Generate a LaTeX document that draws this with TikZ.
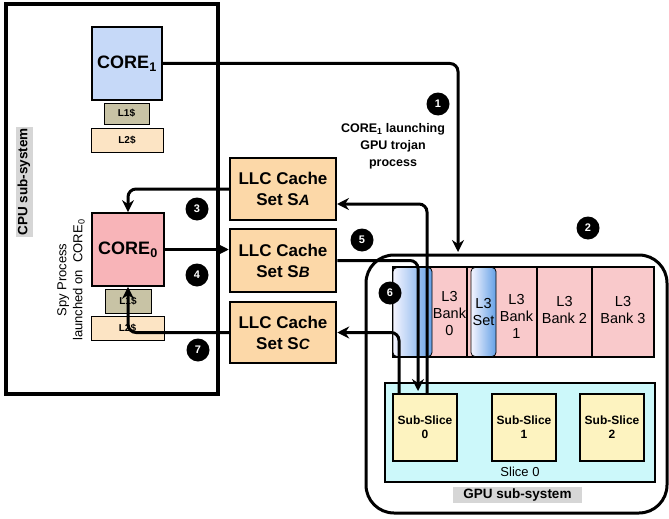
\documentclass[tikz,border=0pt]{standalone}
\usepackage{fontspec}
\setmainfont{Liberation Sans}
\usetikzlibrary{arrows.meta}

\definecolor{coreblue}{RGB}{198,217,248}
\definecolor{corepink}{RGB}{248,180,184}
\definecolor{lonekhaki}{RGB}{200,195,165}
\definecolor{ltwopeach}{RGB}{252,228,196}
\definecolor{llcpeach}{RGB}{252,216,168}
\definecolor{bankpink}{RGB}{249,201,203}
\definecolor{setblue}{RGB}{100,160,230}
\definecolor{slicecyan}{RGB}{204,248,250}
\definecolor{subyellow}{RGB}{253,243,192}
\definecolor{taggray}{RGB}{214,214,214}

\begin{document}
\begin{tikzpicture}[x=1pt, y=-1pt,
		core/.style={draw, line width=1.8pt, inner sep=0pt, font=\bfseries\fontsize{18}{20}\selectfont},
		cache/.style={draw, line width=0.8pt, inner sep=0pt, font=\bfseries\fontsize{10}{12}\selectfont},
		llc/.style={draw, line width=2.5pt, fill=llcpeach, inner sep=0pt, minimum width=106pt, align=center, font=\bfseries\fontsize{17}{21}\selectfont},
		bank/.style={draw, line width=1.8pt, fill=bankpink, minimum height=90pt, inner sep=0pt},
		l3set/.style={draw, line width=0.8pt, rounded corners=4pt, left color=blue!4, right color=setblue, minimum height=89pt, inner sep=0pt, align=center, font=\fontsize{14.5}{17}\selectfont},
		l3txt/.style={align=center, inner sep=0pt, font=\fontsize{14.5}{17}\selectfont},
		subslice/.style={draw, line width=2.5pt, fill=subyellow, minimum width=64pt, minimum height=67pt, inner sep=0pt, align=center, font=\bfseries\fontsize{12}{14}\selectfont},
		tag/.style={fill=taggray, inner sep=0pt, font=\bfseries\fontsize{13.5}{14}\selectfont},
		badge/.style={circle, fill=black, text=white, minimum size=23pt, inner sep=0pt, font=\bfseries\fontsize{11}{11}\selectfont},
		arr/.style={line width=3pt, rounded corners=8pt, -{Stealth[length=12pt,width=12pt,inset=4pt]}}
	]
	\useasboundingbox (0,0) rectangle (669,519);

	% CPU side
	\node (cpu) at (112,199) [draw, line width=3.5pt, minimum width=212pt, minimum height=390pt] {};
	\node (cpulbl) at (24,182) [tag, rotate=90, minimum width=110pt, minimum height=17pt] {CPU sub-system};
	\node (spy) at (71,280) [rotate=90, align=center, inner sep=0pt, font=\fontsize{13}{16}\selectfont] {Spy Process\\launched on \ CORE\textsubscript{0}};

	\node (core1) at (127,63.5) [core, fill=coreblue, minimum width=70pt, minimum height=73pt] {CORE\textsubscript{1}};
	\node (l1a) at (126.5,113.5) [cache, fill=lonekhaki, minimum width=45pt, minimum height=21pt] {L1\$};
	\node (l2a) at (127,140) [cache, fill=ltwopeach, minimum width=72pt, minimum height=24pt] {L2\$};

	\node (core0) at (128,249.5) [core, fill=corepink, minimum width=72pt, minimum height=73pt] {CORE\textsubscript{0}};
	\node (l1b) at (128,301) [cache, fill=lonekhaki, minimum width=46pt, minimum height=24pt] {L1\$};
	\node (l2b) at (127.5,328) [cache, fill=ltwopeach, minimum width=73pt, minimum height=24pt] {L2\$};

	% LLC sets
	\node (llcA) at (283,189) [llc, minimum height=62pt] {LLC Cache\\Set S{\fontsize{15}{15}\selectfont\textit{A}}};
	\node (llcB) at (283,260.5) [llc, minimum height=63pt] {LLC Cache\\Set S{\fontsize{15}{15}\selectfont\textit{B}}};
	\node (llcC) at (283,332.5) [llc, minimum height=61pt] {LLC Cache\\Set S{\fontsize{15}{15}\selectfont\textit{C}}};

	% GPU side
	\node (gpu) at (516.5,384) [draw, line width=3pt, rounded corners=28pt, minimum width=301pt, minimum height=258pt] {};
	\node (bank0) at (430,312) [bank, minimum width=74pt] {};
	\node (bank1) at (502,312) [bank, minimum width=70pt] {};
	\node (bank2) at (564.5,312) [bank, minimum width=55pt] {};
	\node (bank3) at (623,312) [bank, minimum width=62pt] {};
	\node (set0) at (412.5,312) [l3set, minimum width=39pt] {};
	\node (set1) at (483.5,312) [l3set, minimum width=25pt] {L3\\Set};
	\node at (449.5,314) [l3txt] {L3\\Bank\\0};
	\node at (516.5,316) [l3txt] {L3\\Bank\\1};
	\node at (564.5,310) [l3txt] {L3\\Bank 2};
	\node at (623,310) [l3txt] {L3\\Bank 3};

	\node (slice) at (520,432.5) [draw, line width=2pt, fill=slicecyan, minimum width=270pt, minimum height=99pt] {};
	\node at (520,472) [inner sep=0pt, font=\fontsize{13}{13}\selectfont] {Slice 0};
	\node (ss0) at (425,427.5) [subslice] {Sub-Slice\\0};
	\node (ss1) at (524,427.5) [subslice] {Sub-Slice\\1};
	\node (ss2) at (612,427.5) [subslice] {Sub-Slice\\2};
	\node (gpulbl) at (517.5,495) [tag, minimum width=129pt, minimum height=16pt] {GPU sub-system};

	% step markers
	\node (s1) at (438,104) [badge] {1};
	\node (s2) at (588,228) [badge] {2};
	\node (s3) at (197,209) [badge] {3};
	\node (s4) at (197,275) [badge] {4};
	\node (s5) at (362,240) [badge] {5};
	\node (s6) at (390,293) [badge] {6};
	\node (s7) at (198,350) [badge] {7};
	\node (launch) at (393,146) [align=center, inner sep=0pt, font=\bfseries\fontsize{12.5}{17}\selectfont] {CORE\textsubscript{1} launching\\GPU trojan\\process};

	% connectors
	\coordinate (gpuin) at (458,252);
	\coordinate (ssA) at (427,393);
	\coordinate (ssB) at (418,391);
	\coordinate (ssC) at (399,393);
	\coordinate (llcAin) at (337,204);

	\draw [arr] (core1.east) -| (gpuin);
	\draw [arr] (llcA.west) -| (core0.north);
	\draw [arr] (core0.east) -- (core0.east -| llcB.west);
	\draw [arr] (llcC.west) -| (core0.south);
	\draw [arr] (llcB.east) -| (ssB);
	\draw [arr] (ssA) |- (llcAin);
	\draw [arr] (ssC) |- (llcC.east);
\end{tikzpicture}
\end{document}
